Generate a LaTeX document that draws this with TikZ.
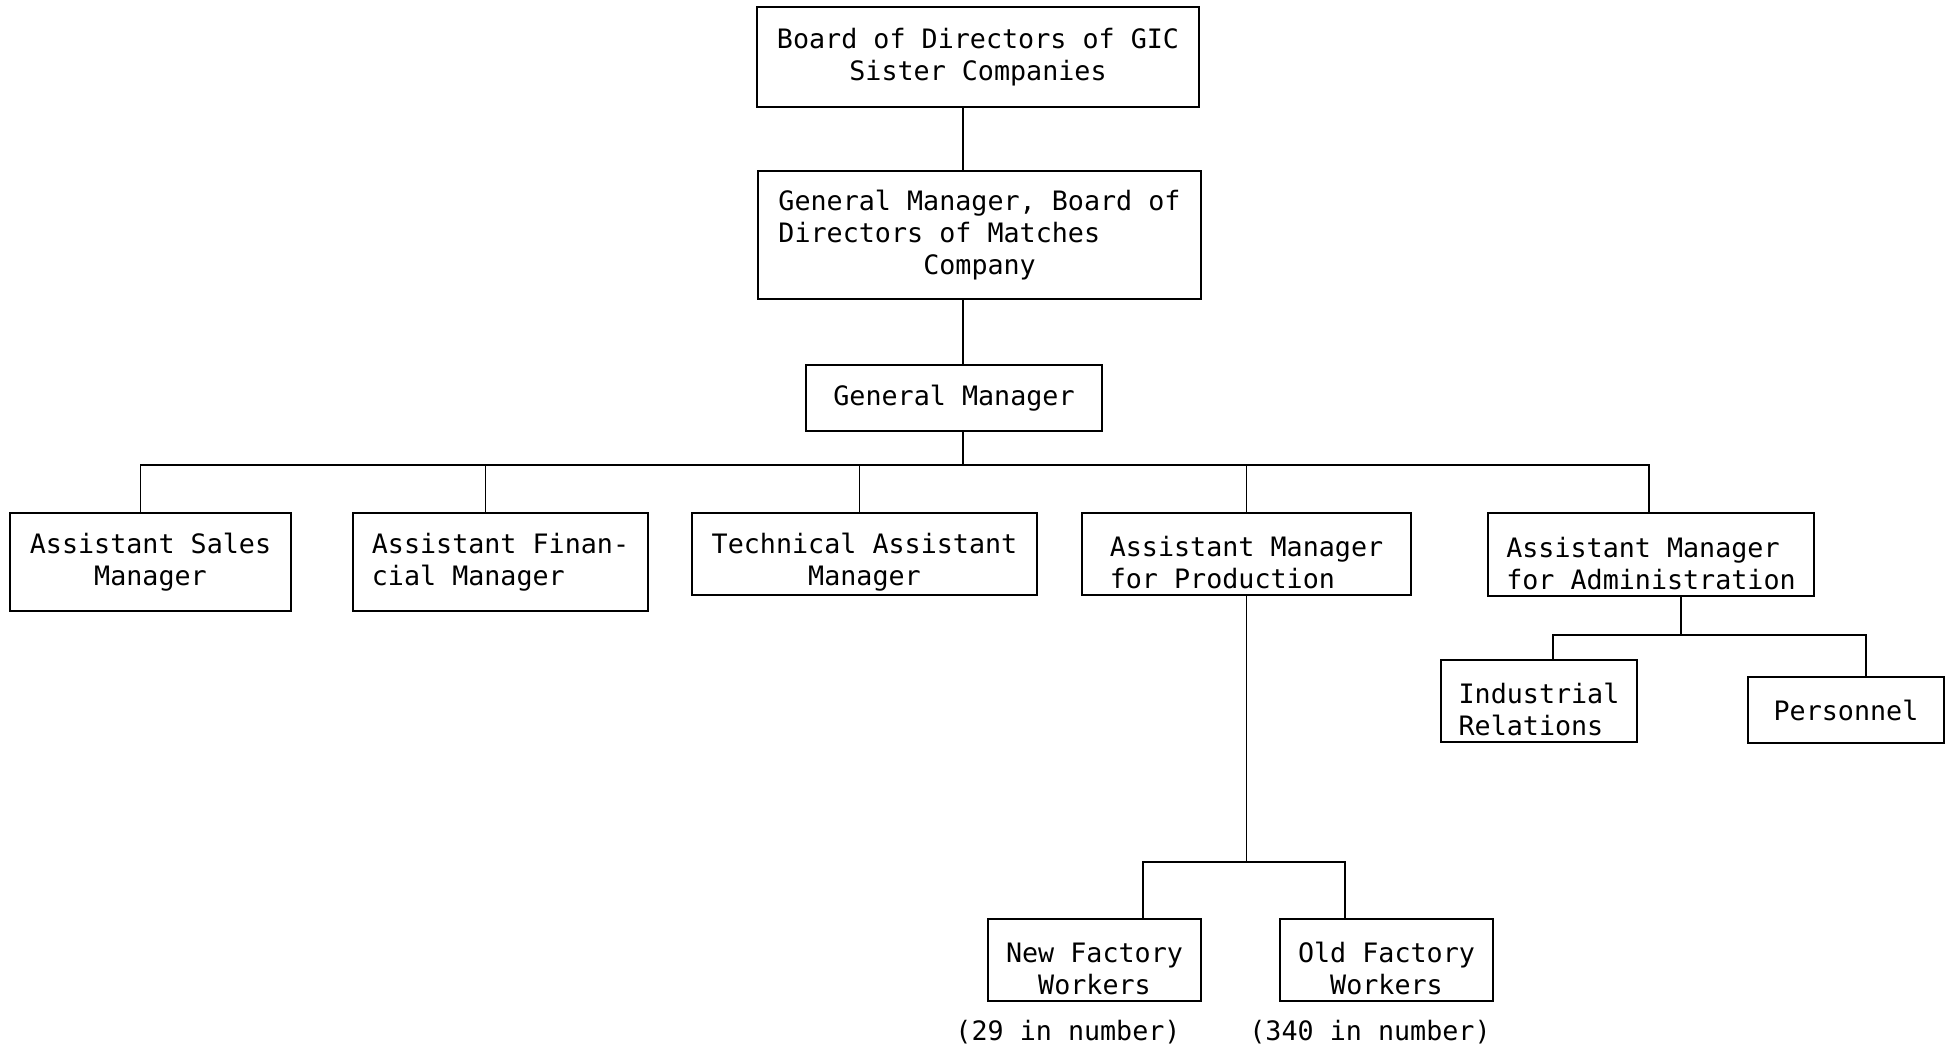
\documentclass[tikz,border=0pt]{standalone}
\usepackage{fontspec}
\setmonofont{DejaVu Sans Mono}
\usepackage{tikz}
\usetikzlibrary{positioning,calc}
\usepackage{xcolor}

\begin{document}
\begin{tikzpicture}[cell/.style={rectangle,draw=black,line width=0.5pt,inner sep=0pt,font=\ttfamily\fontsize{7.6pt}{9.1pt}\selectfont},
            low/.style={text height=19.8pt},
            link/.style={draw=black,line width=0.5pt},
            note/.style={inner sep=0pt,font=\ttfamily\fontsize{7.6pt}{9.1pt}\selectfont}]

            \useasboundingbox (0,0) rectangle (19.48,-10.48);

            \node[cell,align=center,minimum width=4.42cm,minimum height=1.00cm] (board) at (9.78,-0.57) {Board of Directors of GIC\\Sister Companies};
            \node[cell,align=left,minimum width=4.43cm,minimum height=1.28cm] (gmboard) at (9.795,-2.35) {General Manager, Board of\\Directors of Matches\\\hspace*{5.42em}Company};
            \node[cell,align=center,minimum width=2.96cm,minimum height=0.66cm] (gm) at (9.54,-3.98) {General Manager};

            \node[cell,align=center,minimum width=2.81cm,minimum height=0.98cm] (sales) at (1.505,-5.62) {Assistant Sales\\Manager};
            \node[cell,align=left,minimum width=2.95cm,minimum height=0.98cm] (finance) at (5.005,-5.62) {Assistant Finan-\\cial Manager};
            \node[cell,low,align=center,minimum width=3.45cm,minimum height=0.82cm] (tech) at (8.645,-5.54) {Technical Assistant\\Manager};
            \node[cell,low,align=left,minimum width=3.29cm,minimum height=0.82cm] (prod) at (12.465,-5.54) {Assistant Manager\\for Production};
            \node[cell,low,align=left,minimum width=3.26cm,minimum height=0.83cm] (admin) at (16.51,-5.545) {Assistant Manager\\for Administration};

            \node[cell,low,align=left,minimum width=1.96cm,minimum height=0.82cm] (relations) at (15.39,-7.01) {Industrial\\Relations};
            \node[cell,align=center,minimum width=1.96cm,minimum height=0.66cm] (personnel) at (18.46,-7.10) {Personnel};

            \node[cell,low,align=center,minimum width=2.13cm,minimum height=0.82cm] (newfac) at (10.945,-9.60) {New Factory\\Workers};
            \node[cell,low,align=center,minimum width=2.13cm,minimum height=0.82cm] (oldfac) at (13.865,-9.60) {Old Factory\\Workers};
            \node[note] (newcount) at (10.68,-10.32) {(29 in number)};
            \node[note] (oldcount) at (13.70,-10.32) {(340 in number)};

            \coordinate (spine) at (9.63,0);
            \coordinate (bus) at (0,-4.65);
            \coordinate (adminbus) at (0,-6.35);
            \coordinate (prodbus) at (0,-8.62);

            \draw[link] (board.south -| spine) -- (gmboard.north -| spine);
            \draw[link] (gmboard.south -| spine) -- (gm.north -| spine);
            \draw[link] (gm.south -| spine) -- (bus -| spine);
            \draw[link] ([xshift=-0.1cm]sales.north) -- ([xshift=-0.1cm]sales.north |- bus) -- ([xshift=-0.02cm]admin.north |- bus) -- ([xshift=-0.02cm]admin.north);
            \draw[link] ([xshift=-0.15cm]finance.north) -- ([xshift=-0.15cm]finance.north |- bus);
            \draw[link] ([xshift=-0.05cm]tech.north) -- ([xshift=-0.05cm]tech.north |- bus);
            \draw[link] (prod.north) -- (prod.north |- bus);

            \draw[link] ([xshift=0.3cm]admin.south) -- ([xshift=0.3cm]admin.south |- adminbus);
            \draw[link] ([xshift=0.14cm]relations.north) -- ([xshift=0.14cm]relations.north |- adminbus) -- ([xshift=0.2cm]personnel.north |- adminbus) -- ([xshift=0.2cm]personnel.north);

            \draw[link] (prod.south) -- (prod.south |- prodbus);
            \draw[link] ([xshift=0.485cm]newfac.north) -- ([xshift=0.485cm]newfac.north |- prodbus) -- ([xshift=-0.415cm]oldfac.north |- prodbus) -- ([xshift=-0.415cm]oldfac.north);
         \end{tikzpicture}
\end{document}
